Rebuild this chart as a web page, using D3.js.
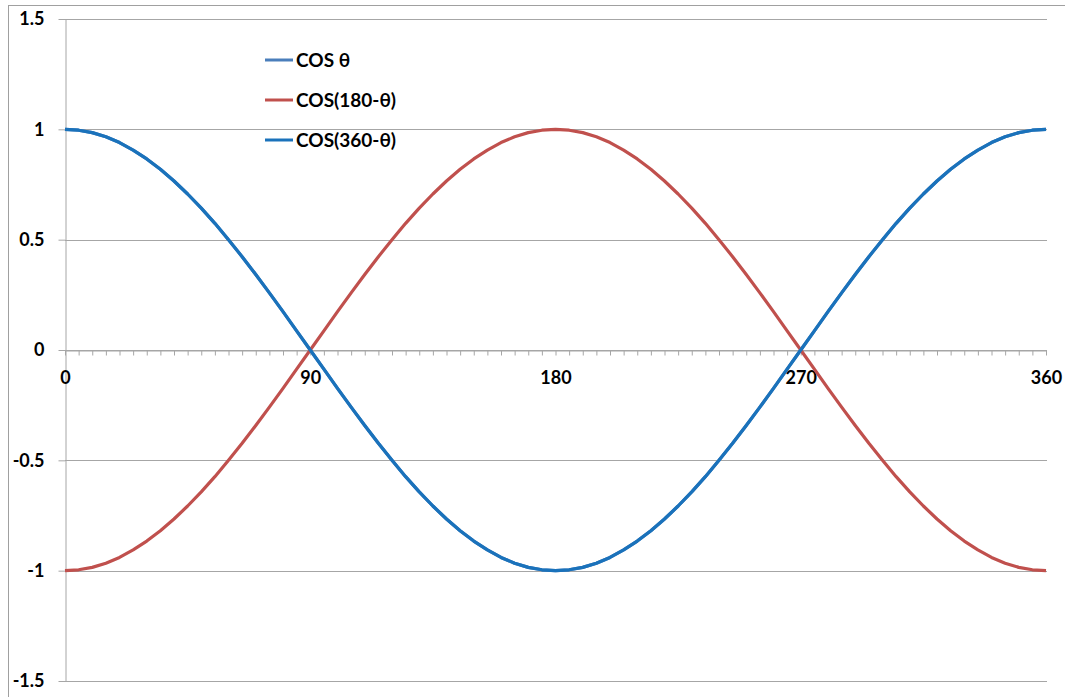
<!DOCTYPE html>
<html>
<head>
<meta charset="utf-8">
<script src="https://cdn.jsdelivr.net/npm/d3@7"></script>
<style>
  html, body { margin: 0; padding: 0; background: #fff; }
  svg text { font-family: Lato, "Open Sans", sans-serif; font-weight: bold; fill: #000; }
</style>
</head>
<body>
<div id="chart"></div>
<script>
const angles = d3.range(0, 361, 5);

const cosTheta = [
    1, 0.996, 0.985, 0.966, 0.94, 0.906, 0.866, 0.819, 0.766, 0.707, 0.643, 0.574, 0.5, 0.423, 0.342, 0.259, 0.174, 0.087, 0,
    -0.087, -0.174, -0.259, -0.342, -0.423, -0.5, -0.574, -0.643, -0.707, -0.766, -0.819, -0.866, -0.906, -0.94, -0.966, -0.985, -0.996, -1,
    -0.996, -0.985, -0.966, -0.94, -0.906, -0.866, -0.819, -0.766, -0.707, -0.643, -0.574, -0.5, -0.423, -0.342, -0.259, -0.174, -0.087, 0,
    0.087, 0.174, 0.259, 0.342, 0.423, 0.5, 0.574, 0.643, 0.707, 0.766, 0.819, 0.866, 0.906, 0.94, 0.966, 0.985, 0.996, 1
];

const cos180 = [
    -1, -0.996, -0.985, -0.966, -0.94, -0.906, -0.866, -0.819, -0.766, -0.707, -0.643, -0.574, -0.5, -0.423, -0.342, -0.259, -0.174, -0.087, 0,
    0.087, 0.174, 0.259, 0.342, 0.423, 0.5, 0.574, 0.643, 0.707, 0.766, 0.819, 0.866, 0.906, 0.94, 0.966, 0.985, 0.996, 1,
    0.996, 0.985, 0.966, 0.94, 0.906, 0.866, 0.819, 0.766, 0.707, 0.643, 0.574, 0.5, 0.423, 0.342, 0.259, 0.174, 0.087, 0,
    -0.087, -0.174, -0.259, -0.342, -0.423, -0.5, -0.574, -0.643, -0.707, -0.766, -0.819, -0.866, -0.906, -0.94, -0.966, -0.985, -0.996, -1
];

const cos360 = [
    1, 0.996, 0.985, 0.966, 0.94, 0.906, 0.866, 0.819, 0.766, 0.707, 0.643, 0.574, 0.5, 0.423, 0.342, 0.259, 0.174, 0.087, 0,
    -0.087, -0.174, -0.259, -0.342, -0.423, -0.5, -0.574, -0.643, -0.707, -0.766, -0.819, -0.866, -0.906, -0.94, -0.966, -0.985, -0.996, -1,
    -0.996, -0.985, -0.966, -0.94, -0.906, -0.866, -0.819, -0.766, -0.707, -0.643, -0.574, -0.5, -0.423, -0.342, -0.259, -0.174, -0.087, 0,
    0.087, 0.174, 0.259, 0.342, 0.423, 0.5, 0.574, 0.643, 0.707, 0.766, 0.819, 0.866, 0.906, 0.94, 0.966, 0.985, 0.996, 1
];

const xLabels = [0, 90, 180, 270, 360];
const yTicks = [-1.5, -1, -0.5, 0, 0.5, 1, 1.5];

const seriesNames = ["COS \u03b8", "COS(180-\u03b8)", "COS(360-\u03b8)"];
const seriesColors = ["#4A7EBB", "#C0504D", "#1A72BB"];
const seriesData = [cosTheta, cos180, cos360];

const width = 1065;
const height = 697;
const plot = { left: 65, right: 1046, top: 19, bottom: 681 };

const svg = d3.select("#chart")
    .append("svg")
    .attr("width", width)
    .attr("height", height);

// outer chart border
svg.append("rect")
    .attr("x", 8.5)
    .attr("y", 5.5)
    .attr("width", width)
    .attr("height", height)
    .attr("fill", "none")
    .attr("stroke", "#A0A0A0");

const xScale = d3.scalePoint()
    .domain(angles)
    .range([plot.left, plot.right]);

const yScale = d3.scaleLinear()
    .domain([-1.5, 1.5])
    .range([plot.bottom, plot.top]);

// gridlines
svg.append("g")
    .selectAll("line")
    .data(yTicks)
    .enter()
    .append("line")
    .attr("x1", plot.left)
    .attr("x2", plot.right + 1)
    .attr("y1", d => Math.round(yScale(d)) + 0.5)
    .attr("y2", d => Math.round(yScale(d)) + 0.5)
    .attr("stroke", "#A6A6A6");

// y axis
const yAxis = svg.append("g")
    .attr("transform", `translate(${plot.left + 0.5}, 0)`)
    .call(d3.axisLeft(yScale)
        .tickValues(yTicks)
        .tickFormat(d => String(d))
        .tickSizeInner(7)
        .tickSizeOuter(0)
        .tickPadding(14));
yAxis.select(".domain").attr("stroke", "#A6A6A6");
yAxis.selectAll(".tick line").attr("stroke", "#A6A6A6");
yAxis.selectAll("text").style("font-size", "18px");

// x axis at zero
const xAxis = svg.append("g")
    .attr("transform", `translate(0, ${Math.round(yScale(0)) + 0.5})`)
    .call(d3.axisBottom(xScale)
        .tickFormat(d => xLabels.includes(d) ? String(d) : "")
        .tickSizeInner(5)
        .tickSizeOuter(0)
        .tickPadding(16));
xAxis.select(".domain").attr("stroke", "#A6A6A6");
xAxis.selectAll(".tick line").attr("stroke", "#A6A6A6");
xAxis.selectAll("text").style("font-size", "18px");

// lines
const line = d3.line()
    .x((d, i) => xScale(angles[i]))
    .y(d => yScale(d));

seriesData.forEach((values, k) => {
    svg.append("path")
        .datum(values)
        .attr("fill", "none")
        .attr("stroke", seriesColors[k])
        .attr("stroke-width", 3.2)
        .attr("stroke-linejoin", "round")
        .attr("d", line);
});

// legend
const legendY = [60, 100, 140];
const legend = svg.append("g");

seriesNames.forEach((name, k) => {
    legend.append("line")
        .attr("x1", 265)
        .attr("x2", 293)
        .attr("y1", legendY[k])
        .attr("y2", legendY[k])
        .attr("stroke", seriesColors[k])
        .attr("stroke-width", 3);
    legend.append("text")
        .attr("x", 296)
        .attr("y", legendY[k])
        .attr("dy", "0.35em")
        .style("font-size", "19px")
        .text(name);
});
</script>
</body>
</html>
